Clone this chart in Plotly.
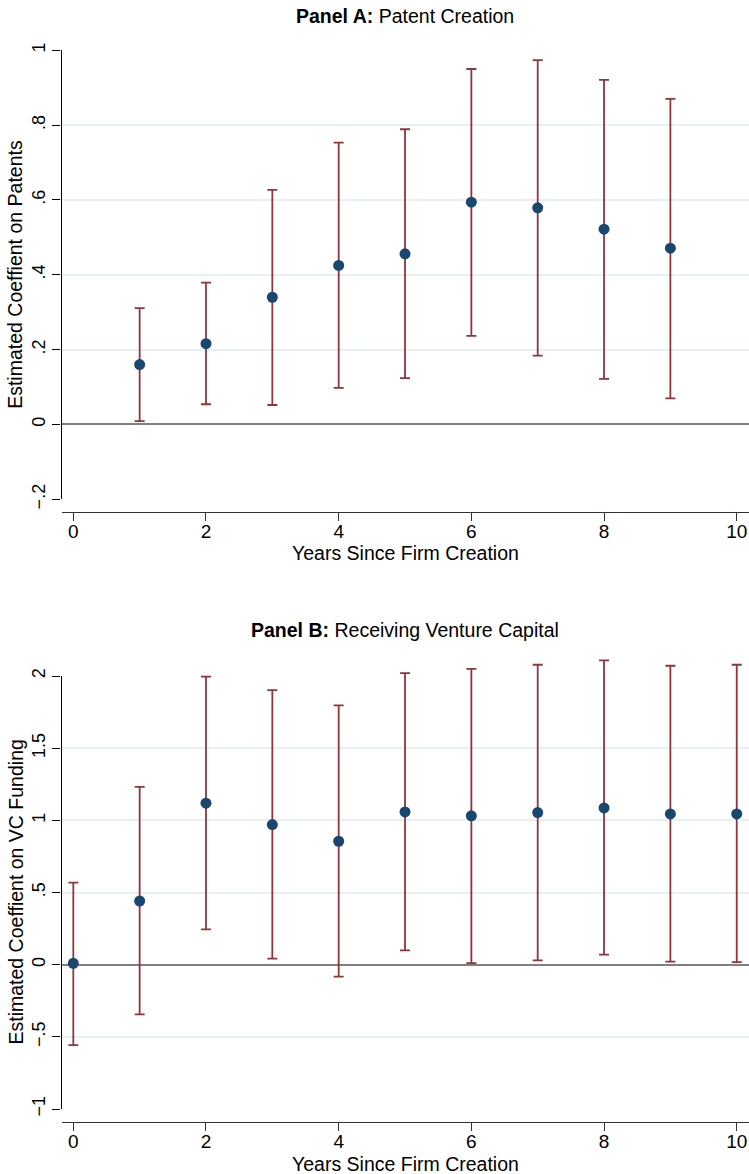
import plotly.graph_objects as go

# ---- Panel A data: patent creation ----
years_a = [1, 2, 3, 4, 5, 6, 7, 8, 9]
coef_a = [0.160, 0.216, 0.340, 0.425, 0.456, 0.594, 0.579, 0.522, 0.471]
lo_a = [0.009, 0.054, 0.052, 0.098, 0.124, 0.237, 0.184, 0.122, 0.070]
hi_a = [0.311, 0.379, 0.627, 0.753, 0.789, 0.950, 0.974, 0.921, 0.870]

# ---- Panel B data: receiving venture capital ----
years_b = [0, 1, 2, 3, 4, 5, 6, 7, 8, 9, 10]
coef_b = [0.009, 0.441, 1.119, 0.971, 0.855, 1.058, 1.031, 1.054, 1.086, 1.044, 1.044]
lo_b = [-0.557, -0.345, 0.245, 0.042, -0.083, 0.099, 0.011, 0.030, 0.069, 0.021, 0.018]
hi_b = [0.569, 1.232, 1.995, 1.902, 1.796, 2.020, 2.050, 2.078, 2.108, 2.071, 2.078]

# ---- tick labels ----
xtick_vals = [0, 2, 4, 6, 8, 10]
xtick_text = ["0", "2", "4", "6", "8", "10"]
ytick_a_vals = [-0.2, 0, 0.2, 0.4, 0.6, 0.8, 1]
ytick_a_text = ["\u2212.2", "0", ".2", ".4", ".6", ".8", "1"]
ytick_b_vals = [-1, -0.5, 0, 0.5, 1, 1.5, 2]
ytick_b_text = ["\u22121", "\u2212.5", "0", ".5", "1", "1.5", "2"]

title_a = "<b>Panel A:</b> Patent Creation"
title_b = "<b>Panel B:</b> Receiving Venture Capital"
xtitle = "Years Since Firm Creation"
ytitle_a = "Estimated Coeffient on Patents"
ytitle_b = "Estimated Coeffient on VC Funding"

NAVY = "#1a476f"
MAROON = "#90353b"
FONT = "Liberation Sans, Arial, Helvetica, sans-serif"
H = 1174
W = 749


def py(pix):
    return 1 - pix / H


def trace(x, y, lo, hi, xa, ya):
    return go.Scatter(
        x=x, y=y, xaxis=xa, yaxis=ya, mode="markers",
        marker=dict(color=NAVY, size=11, line=dict(width=0)),
        error_y=dict(type="data", symmetric=False,
                     array=[h - c for h, c in zip(hi, y)],
                     arrayminus=[c - l for c, l in zip(y, lo)],
                     color=MAROON, thickness=1.8, width=5),
        cliponaxis=False, showlegend=False, hoverinfo="skip",
    )


fig = go.Figure()
fig.add_trace(trace(years_a, coef_a, lo_a, hi_a, "x", "y"))
# empty trace so that the Stata-style axis of panel B (yaxis2) is drawn
fig.add_trace(go.Scatter(x=[], y=[], xaxis="x2", yaxis="y2", mode="markers",
                         showlegend=False, hoverinfo="skip"))
# panel B data sit on an invisible axis whose range reaches a bit above 2,
# so the upper whiskers are not clipped
fig.add_trace(trace(years_b, coef_b, lo_b, hi_b, "x2", "y3"))

xdom = [61.5 / W, 1.0]
xrange_ = [-0.178, 10.185]

common_x = dict(
    domain=xdom, range=xrange_, anchor="free", showline=True, automargin=False,
    linecolor="#333333", linewidth=1.3, ticks="outside", ticklen=8,
    tickwidth=1.3, tickcolor="#333333", tickvals=xtick_vals, ticktext=xtick_text,
    showgrid=False, zeroline=False, ticklabelstandoff=-6,
    tickfont=dict(size=19, color="#000", family=FONT),
)
common_y = dict(
    showline=True, linecolor="#000000", linewidth=1.3, ticks="outside",
    ticklen=8, tickwidth=1.3, tickcolor="#000000", tickangle=-90, automargin=False,
    showgrid=True, gridcolor="#e6eff2", gridwidth=1.5,
    zeroline=True, zerolinecolor="#808080", zerolinewidth=1.6,
    tickfont=dict(size=18, color="#000", family=FONT),
)

# panel B pixel geometry
b_top, b_bot = 676.0, 1109.0          # pixel rows of y = 2 and y = -1
b_pp = (b_bot - b_top) / 3.0          # pixels per unit
b_ext = 2.2                           # data-axis top value
b_ext_top = b_bot - (b_ext + 1) * b_pp

x_mid = (xdom[0] + 1) / 2


def ann(text, x, y, size, angle=0):
    return dict(text=text, x=x, y=y, xref="paper", yref="paper", showarrow=False,
                xanchor="center", yanchor="middle", textangle=angle,
                font=dict(size=size, family=FONT, color="#000"))


fig.update_layout(
    width=W, height=H,
    margin=dict(l=0, r=0, t=0, b=0, pad=0),
    paper_bgcolor="white", plot_bgcolor="rgba(0,0,0,0)",
    font=dict(family=FONT, color="#000"),
    xaxis=dict(common_x, position=py(511.7)),
    xaxis2=dict(common_x, position=py(1121.7)),
    yaxis=dict(common_y, domain=[py(499.3), py(50.3)], range=[-0.2, 1], anchor="x",
               tickvals=ytick_a_vals, ticktext=ytick_a_text),
    yaxis2=dict(common_y, domain=[py(b_bot), py(b_top)], range=[-1, 2], anchor="x2",
                tickvals=ytick_b_vals, ticktext=ytick_b_text),
    yaxis3=dict(domain=[py(b_bot), py(b_ext_top)], range=[-1, b_ext], anchor="x2",
                visible=False, automargin=False, showgrid=False, zeroline=False),
    annotations=[
        ann(title_a, x_mid, py(16), 19.5),
        ann(title_b, x_mid, py(630), 19.5),
        ann(xtitle, x_mid, py(553.5), 19.5),
        ann(xtitle, x_mid, py(1163.5), 19.5),
        ann(ytitle_a, 15 / W, py((50.3 + 499.3) / 2), 19.5, -90),
        ann(ytitle_b, 15 / W, py((b_top + b_bot) / 2), 19.5, -90),
    ],
)

fig.write_html("out.html", config={"displayModeBar": False},
               post_script="document.body.style.margin='0px';")
